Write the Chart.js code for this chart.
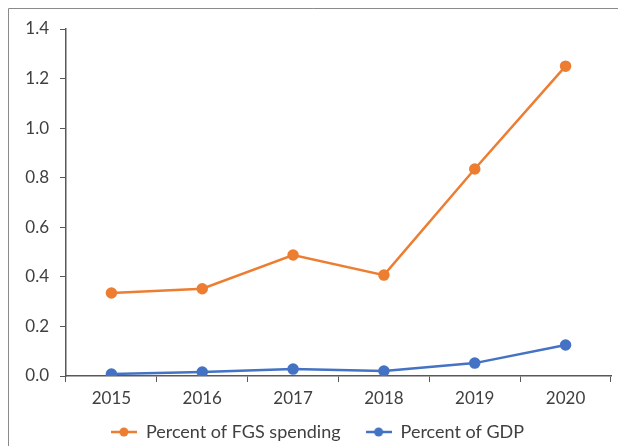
<!DOCTYPE html>
<html>
<head>
<meta charset="utf-8">
<script src="https://cdn.jsdelivr.net/npm/chart.js@4"></script>
<style>
  html, body { margin: 0; padding: 0; background: #fff; }
  #wrap { width: 618px; height: 446px; position: relative; }
</style>
</head>
<body>
<div id="wrap"><canvas id="lineChart" width="618" height="446"></canvas></div>
<script>
// Data
const years = ['2015', '2016', '2017', '2018', '2019', '2020'];
const fgsSpending = [0.335, 0.352, 0.488, 0.407, 0.835, 1.25];
const gdpShare = [0.008, 0.016, 0.028, 0.02, 0.052, 0.125];
const yTicks = [0, 0.2, 0.4, 0.6, 0.8, 1.0, 1.2, 1.4];

const ORANGE = '#ED7D31';
const BLUE = '#4472C4';
const FONT = 'Lato, "Open Sans", sans-serif';

// legend marker: short line with a dot
function legendMarker(color) {
  const c = document.createElement('canvas');
  c.width = 26; c.height = 12;
  const g = c.getContext('2d');
  g.strokeStyle = color;
  g.lineWidth = 2.5;
  g.beginPath(); g.moveTo(0, 6); g.lineTo(26, 6); g.stroke();
  g.fillStyle = color;
  g.beginPath(); g.arc(13, 6, 4.5, 0, Math.PI * 2); g.fill();
  return c;
}

// outer frame (left + top edges visible), plus legend tweaks
const framePlugin = {
  id: 'frame',
  afterInit(chart) {
    // pin the legend height so the plot keeps its size, and nudge it into place
    const lg = chart.legend;
    if (lg && !lg._pinned) {
      const fit = lg.fit;
      lg.fit = function () { fit.call(this); this.height = 34; };
      lg.draw = function () {
        if (!this.options.display) return;
        this.ctx.save();
        this.ctx.translate(12, -14);
        this._draw();
        this.ctx.restore();
      };
      lg._pinned = true;
    }
  },
  beforeDraw(chart) {
    const ctx = chart.ctx;
    ctx.save();
    ctx.strokeStyle = '#8a8a8a';
    ctx.lineWidth = 1;
    ctx.beginPath();
    ctx.moveTo(8.5, 446);
    ctx.lineTo(8.5, 8.5);
    ctx.lineTo(618, 8.5);
    ctx.stroke();
    ctx.restore();
  }
};

const ctx = document.getElementById('lineChart').getContext('2d');
new Chart(ctx, {
  type: 'line',
  data: {
    labels: years,
    datasets: [{
      label: 'Percent of FGS spending',
      data: fgsSpending,
      borderColor: ORANGE,
      backgroundColor: ORANGE,
      borderWidth: 2.5,
      pointRadius: 4.5,
      pointHoverRadius: 4.5
    }, {
      label: 'Percent of GDP',
      data: gdpShare,
      borderColor: BLUE,
      backgroundColor: BLUE,
      borderWidth: 2.5,
      pointRadius: 4.5,
      pointHoverRadius: 4.5
    }]
  },
  options: {
    responsive: false,
    animation: false,
    layout: { padding: { left: 0, right: 7, top: 29, bottom: 0 } },
    elements: { point: { pointStyle: 'circle' }, line: { tension: 0 } },
    plugins: {
      legend: {
        display: true,
        position: 'bottom',
        labels: {
          usePointStyle: true,
          pointStyleWidth: 26,
          boxHeight: 12,
          padding: 25,
          color: '#404040',
          font: { family: FONT, size: 18 },
          generateLabels(chart) {
            return chart.data.datasets.map((ds, i) => ({
              text: ds.label,
              fillStyle: ds.borderColor,
              strokeStyle: ds.borderColor,
              lineWidth: 0,
              pointStyle: legendMarker(ds.borderColor),
              datasetIndex: i,
              fontColor: '#404040'
            }));
          }
        }
      },
      tooltip: { enabled: false }
    },
    scales: {
      x: {
        offset: true,
        grid: {
          offset: true,
          drawOnChartArea: false,
          drawTicks: true,
          tickLength: 6,
          color: '#595959'
        },
        border: { color: '#595959', width: 1.5 },
        ticks: {
          color: '#404040',
          padding: 6,
          font: { family: FONT, size: 17 },
          maxRotation: 0
        },
        afterFit(scale) { scale.height = 36; }
      },
      y: {
        min: 0,
        max: 1.4,
        afterBuildTicks(scale) {
          scale.ticks = yTicks.map(v => ({ value: v }));
        },
        grid: {
          drawOnChartArea: false,
          drawTicks: true,
          tickLength: 6,
          color: '#595959'
        },
        border: { color: '#595959', width: 1.5 },
        ticks: {
          color: '#404040',
          padding: 11,
          font: { family: FONT, size: 17 },
          callback: v => v.toFixed(1)
        },
        afterFit(scale) { scale.width = 66; }
      }
    }
  },
  plugins: [framePlugin]
});
</script>
</body>
</html>
